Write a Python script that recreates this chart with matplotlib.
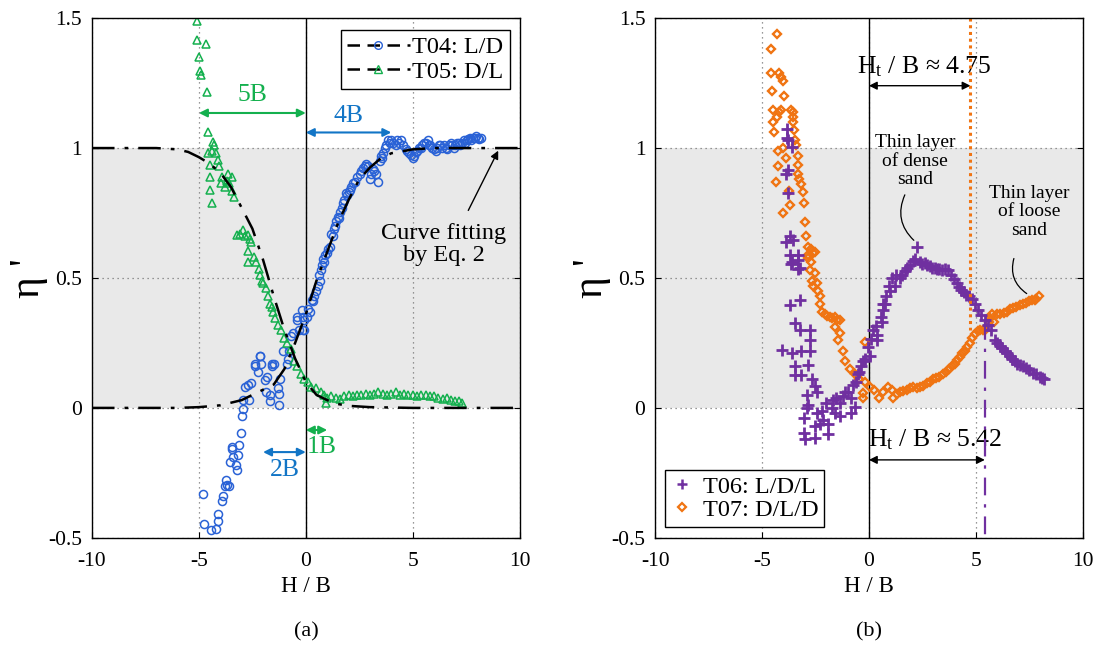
import matplotlib
matplotlib.use("Agg")
import matplotlib.pyplot as plt
from matplotlib.lines import Line2D

plt.rcParams['font.family'] = ['Liberation Serif', 'DejaVu Serif']
plt.rcParams['mathtext.fontset'] = 'custom'
plt.rcParams['mathtext.rm'] = 'Liberation Serif'
plt.rcParams['mathtext.it'] = 'Liberation Serif:italic'
plt.rcParams['axes.unicode_minus'] = False

# ---------------- data ----------------
# fitted curves (Eq. 2)
fit04_x = [-10, -6, -5, -4, -3, -2, -1.5, -1, -0.5, 0, 0.5, 1, 1.5, 2, 2.5, 3, 3.5, 4, 5, 6, 10]
fit04_y = [0, 0, 0.003, 0.01, 0.03, 0.07, 0.09, 0.15, 0.25, 0.36, 0.49, 0.6, 0.71, 0.8, 0.88, 0.925, 0.96, 0.98, 0.995, 1.0, 1.0]
fit05_x = [-10, -7, -6, -5.5, -5, -4.5, -4, -3.5, -3, -2.5, -2, -1.5, -1, -0.5, 0, 0.5, 1, 1.5, 2, 3, 5, 10]
fit05_y = [1, 1, 0.995, 0.985, 0.965, 0.94, 0.905, 0.85, 0.77, 0.69, 0.57, 0.43, 0.3, 0.19, 0.1, 0.05, 0.03, 0.015, 0.008, 0.003, 0, 0]

t04_x = [-4.83, -4.77, -4.45, -4.2, -4.11, -4.11, -3.94, -3.88, -3.79, -3.7, -3.74, -3.6, -3.24, -3.25,
         -3.55, -3.4, -3.47, -3.45, -3.17, -3.13, -3.05, -3.0, -2.96, -2.93, -2.85, -2.7, -2.67, -2.55,
         -2.39, -2.36, -2.23, -2.15, -2.12, -2.1, -1.92, -1.87, -1.82, -1.68, -1.66, -1.6, -1.57, -1.5,
         -1.29, -1.25, -1.25, -1.2, -1.06, -0.9, -0.84, -0.78, -0.67, -0.6, -0.43, -0.4, -0.3, -0.2,
         -0.15, -0.14, -0.08, -0.1, 0.05, 0.08, 0.2, 0.27, 0.34, 0.4,
         0.5, 0.55, 0.6, 0.65, 0.7, 0.75, 0.8, 0.85, 0.9, 0.97, 1.05, 1.12, 1.2, 1.25, 1.3, 1.36, 1.42,
         1.5, 1.55, 1.6, 1.67, 1.74, 1.8, 1.9, 1.95, 2.0, 2.06, 2.12, 2.2, 2.3, 2.4, 2.52, 2.6, 2.67,
         2.75, 2.83, 2.9, 2.99, 3.05, 3.12, 3.2, 3.28, 3.37, 3.45, 3.5, 3.55, 3.6, 3.7, 3.77, 3.85,
         3.92, 4.0, 4.1, 4.2, 4.28, 4.36, 4.45, 4.55, 4.67, 4.75, 4.83, 4.9, 5.0, 5.07, 5.14, 5.22,
         5.3, 5.37, 5.45, 5.52, 5.6, 5.7, 5.77, 5.83, 5.9, 6.0, 6.07, 6.15, 6.22, 6.3, 6.38, 6.46,
         6.54, 6.62, 6.7, 6.78, 6.86, 6.93, 7.0, 7.08, 7.15, 7.22, 7.3, 7.38, 7.45, 7.52, 7.6, 7.68,
         7.75, 7.82, 7.9, 7.98, 8.05, 8.12, 8.2]
t04_y = [-0.33, -0.446, -0.47, -0.465, -0.437, -0.41, -0.36, -0.34, -0.30, -0.296, -0.277, -0.3, -0.24, -0.22,
         -0.21, -0.19, -0.16, -0.15, -0.18, -0.143, -0.097, -0.03, -0.005, 0.03, 0.08, 0.09, 0.03, 0.096,
         0.16, 0.17, 0.14, 0.2, 0.2, 0.17, 0.108, 0.063, 0.12, 0.025, 0.05, 0.17, 0.16, 0.17,
         0.076, 0.055, 0.01, 0.11, 0.22, 0.17, 0.19, 0.22, 0.275, 0.29, 0.34, 0.35, 0.3, 0.377,
         0.35, 0.3, 0.34, 0.30, 0.35, 0.38, 0.37, 0.415, 0.41, 0.43,
         0.45, 0.47, 0.51, 0.49, 0.53, 0.55, 0.575, 0.56, 0.59, 0.595, 0.61, 0.62, 0.67, 0.66, 0.69, 0.70, 0.72,
         0.735, 0.73, 0.755, 0.77, 0.787, 0.80, 0.826, 0.82, 0.83, 0.84, 0.85, 0.865, 0.87, 0.89, 0.90, 0.91, 0.925,
         0.93, 0.94, 0.93, 0.88, 0.90, 0.92, 0.91, 0.90, 0.87, 0.95, 0.97, 0.96, 0.98, 1.0, 1.01, 1.03,
         1.02, 1.03, 1.02, 1.01, 1.03, 1.02, 1.03, 1.01, 0.995, 0.99, 0.98, 0.975, 0.96, 0.97, 0.985, 0.99,
         1.0, 1.0, 1.01, 1.02, 1.02, 1.03, 1.01, 1.01, 1.0, 0.995, 0.99, 1.0, 1.01, 1.01, 1.0, 1.01,
         1.0, 0.995, 1.01, 1.02, 1.01, 1.0, 1.01, 1.02, 1.02, 1.01, 1.02, 1.03, 1.02, 1.03, 1.035, 1.04,
         1.03, 1.04, 1.04, 1.045, 1.04, 1.035, 1.04]

t05_x = [-5.08, -5.08, -4.67, -4.98, -4.95, -4.9, -4.61, -4.56, -4.33, -4.28, -4.4, -4.2, -4.56, -4.13,
         -4.49, -4.06, -3.63, -3.9, -4.49, -3.7, -3.95, -3.6, -3.8, -4.49, -3.45, -3.37, -4.41, -3.45,
         -3.24, -3.1, -2.93, -2.85, -2.7, -2.62, -2.7, -2.7, -2.55, -2.4, -2.35, -2.2, -2.12, -2.05,
         -2.0, -1.85, -1.77, -1.69, -1.6, -1.55, -1.44, -1.32, -1.17, -1.0, -0.86, -0.7, -0.55, -0.39,
         -0.24, -0.08, 0.08, 0.23, 0.47, 0.7, 0.85, 0.93, 1.0, 1.2, 1.4, 1.6, 1.8, 2.0, 2.2, 2.4,
         2.6, 2.8, 3.0, 3.2, 3.4, 3.6, 3.8, 4.0, 4.2, 4.4, 4.6, 4.8, 5.0, 5.2, 5.4, 5.6, 5.8, 6.0,
         6.2, 6.4, 6.6, 6.8, 7.0, 7.15, 7.3]
t05_y = [1.49, 1.415, 1.40, 1.35, 1.295, 1.28, 1.217, 1.06, 1.025, 1.01, 0.99, 0.98, 0.98, 0.955,
         0.935, 0.93, 0.90, 0.89, 0.89, 0.875, 0.865, 0.865, 0.85, 0.84, 0.835, 0.81, 0.79, 0.89,
         0.665, 0.67, 0.685, 0.66, 0.665, 0.65, 0.605, 0.563, 0.64, 0.58, 0.56, 0.535, 0.51, 0.49,
         0.48, 0.46, 0.43, 0.40, 0.39, 0.37, 0.345, 0.32, 0.30, 0.27, 0.25, 0.225, 0.18, 0.16,
         0.13, 0.11, 0.10, 0.08, 0.075, 0.06, 0.05, 0.02, 0.04, 0.045, 0.04, 0.035, 0.045, 0.05, 0.045, 0.05,
         0.05, 0.055, 0.05, 0.055, 0.06, 0.055, 0.05, 0.055, 0.06, 0.05, 0.055, 0.05, 0.05, 0.045, 0.05, 0.05, 0.045, 0.045,
         0.04, 0.035, 0.04, 0.03, 0.025, 0.025, 0.02]

t06_x = [-3.84, -3.84, -3.8, -3.6, -3.77, -3.9, -3.77, -3.69, -3.9, -3.53, -3.69, -3.3, -3.6, -3.3,
         -3.22, -3.63, -3.3, -3.69, -3.22, -3.45, -3.22, -2.76, -2.76, -4.05, -3.6, -3.2, -2.76, -3.45,
         -2.84, -3.45, -3.2, -2.68, -2.53, -2.45, -2.9, -2.84, -2.9, -3.05, -3.05, -3.0, -2.53, -2.53,
         -2.45, -2.2, -2.15, -2.3, -1.9, -1.9, -2.0, -1.75, -1.68, -1.6, -1.53, -1.37, -1.37, -1.21,
         -1.14, -0.98, -0.82, -0.82, -0.67, -0.75, -0.6, -0.5, -0.45, -0.37, -0.3, -0.2, -0.05, 0.05,
         0.1, 0.18, 0.33, 0.36, 0.4, 0.55, 0.6, 0.64, 0.67, 0.75, 0.8, 0.95, 0.98, 1.1, 1.21, 1.25,
         1.45, 1.55, 1.68, 1.8, 1.92, 2.05, 2.15, 2.23, 2.4, 2.5, 2.6, 2.72, 2.85, 2.95, 3.08, 3.2,
         3.3, 3.42, 3.55, 3.7, 3.86, 3.98, 4.1, 4.22, 4.33, 4.45, 4.56, 4.68, 4.8, 4.95, 5.1, 5.26,
         5.42, 5.57, 5.73, 5.88, 6.0, 6.12, 6.23, 6.35, 6.47, 6.59, 6.7, 6.82, 6.94, 7.05, 7.2, 7.36,
         7.5, 7.67, 7.82, 7.98, 8.1, 8.2]
t06_y = [1.075, 1.04, 1.03, 1.005, 0.915, 0.9, 0.826, 0.66, 0.64, 0.645, 0.59, 0.59, 0.56, 0.57,
         0.54, 0.555, 0.535, 0.396, 0.415, 0.326, 0.30, 0.30, 0.26, 0.223, 0.21, 0.22, 0.22, 0.16,
         0.165, 0.125, 0.125, 0.11, 0.085, 0.06, 0.05, 0.01, 0.0, -0.04, -0.098, -0.12, -0.115, -0.07,
         -0.02, -0.01, -0.045, -0.06, -0.1, -0.06, 0.02, 0.0, 0.03, -0.02, 0.04, 0.02, -0.03, 0.045,
         0.06, 0.06, 0.04, -0.02, 0.005, 0.09, 0.1, 0.13, 0.14, 0.16, 0.18, 0.19, 0.235, 0.2,
         0.265, 0.3, 0.315, 0.26, 0.28, 0.35, 0.33, 0.40, 0.377, 0.40, 0.43, 0.47, 0.45, 0.5, 0.47, 0.51,
         0.5, 0.51, 0.525, 0.54, 0.55, 0.565, 0.575, 0.62, 0.56, 0.555, 0.557, 0.55, 0.545, 0.54, 0.54, 0.535,
         0.535, 0.53, 0.535, 0.53, 0.51, 0.495, 0.48, 0.465, 0.455, 0.445, 0.435, 0.43, 0.42, 0.40, 0.377, 0.357,
         0.34, 0.32, 0.30, 0.26, 0.25, 0.24, 0.23, 0.22, 0.21, 0.2, 0.19, 0.18, 0.17, 0.165, 0.16, 0.155,
         0.145, 0.135, 0.13, 0.12, 0.115, 0.11]

t07_x = [-4.32, -4.58, -4.56, -4.2, -4.1, -4.0, -4.53, -3.97, -4.5, -4.2, -4.1, -3.64, -3.57, -4.28,
         -3.57, -4.47, -3.57, -3.5, -4.45, -3.44, -4.24, -4.0, -3.4, -3.33, -3.86, -4.27, -3.33, -3.33,
         -3.25, -3.17, -4.33, -3.1, -3.73, -3.7, -3.02, -4.02, -3.0, -2.93, -2.85, -2.7, -2.54, -2.85,
         -2.7, -2.83, -2.6, -2.76, -2.53, -2.68, -2.45, -2.6, -2.37, -2.3, -2.3, -2.2, -2.06, -1.95,
         -1.84, -1.72, -1.6, -1.48, -1.37, -1.6, -1.37, -1.45, -1.2, -1.14, -0.9, -0.67, -0.45, -0.2,
         -0.3, -0.17, -0.28, 0.03, 0.25, 0.48, 0.64, 0.87, 1.1, 1.14, 1.3, 1.45, 1.6, 1.76, 1.92, 2.07,
         2.23, 2.39, 2.55, 2.7, 2.85, 3.0, 3.15, 3.3, 3.45, 3.6, 3.75, 3.9, 4.02, 4.14, 4.26, 4.37,
         4.48, 4.6, 4.72, 4.84, 4.98, 5.1, 5.2, 5.32, 5.45, 5.6, 5.68, 5.75, 5.85, 6.0, 6.15, 6.3,
         6.45, 6.6, 6.75, 6.9, 7.05, 7.2, 7.35, 7.5, 7.65, 7.75, 7.83, 7.95]
t07_y = [1.44, 1.38, 1.29, 1.29, 1.275, 1.26, 1.22, 1.2, 1.146, 1.14, 1.146, 1.146, 1.14, 1.12,
         1.12, 1.10, 1.10, 1.07, 1.06, 1.03, 0.99, 1.0, 1.01, 0.97, 0.96, 0.93, 0.935, 0.9,
         0.88, 0.86, 0.87, 0.83, 0.835, 0.78, 0.79, 0.75, 0.716, 0.66, 0.62, 0.61, 0.6, 0.59,
         0.56, 0.576, 0.595, 0.53, 0.52, 0.49, 0.48, 0.47, 0.45, 0.43, 0.40, 0.37, 0.36, 0.355,
         0.35, 0.345, 0.35, 0.34, 0.34, 0.31, 0.29, 0.26, 0.22, 0.18, 0.15, 0.13, 0.11, 0.1,
         0.04, 0.255, 0.056, 0.08, 0.07, 0.04, 0.06, 0.08, 0.07, 0.04, 0.055, 0.06, 0.065, 0.07, 0.075, 0.08,
         0.075, 0.08, 0.085, 0.095, 0.1, 0.11, 0.115, 0.12, 0.13, 0.14, 0.15, 0.16, 0.17, 0.185, 0.195, 0.21,
         0.22, 0.235, 0.25, 0.27, 0.285, 0.295, 0.3, 0.3, 0.3, 0.33, 0.345, 0.36, 0.33, 0.36, 0.36, 0.365,
         0.37, 0.38, 0.385, 0.39, 0.395, 0.40, 0.405, 0.41, 0.415, 0.415, 0.42, 0.43]

xticks = [-10, -5, 0, 5, 10]
yticks = [-0.5, 0, 0.5, 1, 1.5]
yticklabels = ['-0.5', '0', '0.5', '1', '1.5']

blue = '#2a62d6'
blue_ann = '#1275c6'
green = '#14b04e'
purple = '#7030a0'
orange = '#f07412'

fig = plt.figure(figsize=(11.02, 6.48), dpi=100)
axL = fig.add_axes([0.0835, 0.170, 0.388, 0.802])
axR = fig.add_axes([0.5945, 0.170, 0.388, 0.802])

for ax in (axL, axR):
    ax.set_xlim(-10, 10)
    ax.set_ylim(-0.5, 1.5)
    ax.axhspan(0, 1, color='#e9e9e9', zorder=0, lw=0)
    ax.set_xticks(xticks)
    ax.set_yticks(yticks)
    ax.set_yticklabels(yticklabels)
    ax.grid(True, ls=(0, (1, 3)), color='#777777', lw=0.9, zorder=1)
    ax.axvline(0, color='black', lw=1.0, zorder=2)
    ax.tick_params(direction='in', length=4, labelsize=15.5, right=True, top=False)
    ax.tick_params(axis='x', pad=10)
    ax.tick_params(axis='y', pad=7)
    for s in ax.spines.values():
        s.set_linewidth(1.0)
        s.set_zorder(6)
    ax.set_xlabel('H / B', fontsize=16.5, labelpad=4)
    ax.set_ylabel("η '", fontsize=30, labelpad=0)

# ---------- left panel ----------
axL.plot(t04_x, t04_y, 'o', ms=5.8, mfc='none', mec=blue, mew=1.1, zorder=3)
axL.plot(t05_x, t05_y, '^', ms=5.8, mfc='none', mec=green, mew=1.1, zorder=3)
axL.plot(fit04_x, fit04_y, color='black', lw=1.8, ls=(0, (9, 4, 1.5, 4)), zorder=4)
axL.plot(fit05_x, fit05_y, color='black', lw=1.8, ls=(0, (9, 4, 1.5, 4)), zorder=4)

h1 = Line2D([], [], color='black', lw=1.8, ls=(0, (5, 3)), marker='o', ms=5.5, mfc='none', mec=blue)
h2 = Line2D([], [], color='black', lw=1.8, ls=(0, (5, 3)), marker='^', ms=5.5, mfc='none', mec=green)
legL = axL.legend([h1, h2], ['T04: L/D', 'T05: D/L'], loc='upper right', fontsize=17.5,
                  frameon=True, fancybox=False, edgecolor='black', framealpha=1,
                  handlelength=2.6, handletextpad=0.1, borderpad=0.25, labelspacing=0.1,
                  borderaxespad=0, bbox_to_anchor=(0.977, 0.977))
legL.get_frame().set_linewidth(1.0)

arr = dict(arrowstyle='<|-|>', lw=1.5, mutation_scale=12, shrinkA=0, shrinkB=0)
axL.annotate('', xy=(-5, 1.135), xytext=(0, 1.135), arrowprops=dict(color=green, **arr))
axL.text(-2.5, 1.16, '5B', color=green, fontsize=18.5, ha='center', va='bottom')
axL.annotate('', xy=(0, 1.06), xytext=(4, 1.06), arrowprops=dict(color=blue_ann, **arr))
axL.text(2.0, 1.08, '4B', color=blue_ann, fontsize=18.5, ha='center', va='bottom')
axL.annotate('', xy=(0, -0.085), xytext=(1, -0.085), arrowprops=dict(color=green, **arr))
axL.text(0.75, -0.11, '1B', color=green, fontsize=18.5, ha='center', va='top')
axL.annotate('', xy=(-2, -0.17), xytext=(0, -0.17), arrowprops=dict(color=blue_ann, **arr))
axL.text(-1.0, -0.195, '2B', color=blue_ann, fontsize=18.5, ha='center', va='top')
axL.annotate('', xy=(9.0, 0.99), xytext=(7.6, 0.76),
             arrowprops=dict(arrowstyle='-|>', color='black', lw=1.0, mutation_scale=12, shrinkA=0, shrinkB=0))
axL.text(6.45, 0.63, 'Curve fitting\nby Eq. 2', fontsize=17.5, ha='center', va='center', linespacing=1.05)

# ---------- right panel ----------
axR.plot(t07_x, t07_y, 'D', ms=4.4, mfc='none', mec=orange, mew=1.7, zorder=3)
axR.plot(t06_x, t06_y, '+', ms=8, mec=purple, mew=2.0, zorder=3)
axR.plot([4.75, 4.75], [1.5, 0.3], color=orange, lw=2.2, ls=(0, (1, 1.2)), zorder=4)
axR.plot([5.42, 5.42], [0.33, -0.5], color=purple, lw=1.6, ls=(0, (8, 4, 1.5, 4)), zorder=4)

h3 = Line2D([], [], ls='none', marker='+', ms=7.5, mec=purple, mew=1.8)
h4 = Line2D([], [], ls='none', marker='D', ms=4.2, mfc='none', mec=orange, mew=1.6)
legR = axR.legend([h3, h4], ['T06: L/D/L', 'T07: D/L/D'], loc='lower left', fontsize=17.5,
                  frameon=True, fancybox=False, edgecolor='black', framealpha=1,
                  handlelength=0.9, handletextpad=0.4, borderpad=0.25, labelspacing=0.05,
                  borderaxespad=0, bbox_to_anchor=(0.023, 0.021))
legR.get_frame().set_linewidth(1.0)

arrk = dict(arrowstyle='<|-|>', lw=1.0, mutation_scale=12, color='black', shrinkA=0, shrinkB=0)
axR.annotate('', xy=(0, 1.24), xytext=(4.75, 1.24), arrowprops=arrk)
axR.text(2.6, 1.265, r'H$_\mathregular{t}$ / B ≈ 4.75', fontsize=18.5, ha='center', va='bottom')
axR.annotate('', xy=(0, -0.2), xytext=(5.42, -0.2), arrowprops=arrk)
axR.text(3.1, -0.17, r'H$_\mathregular{t}$ / B ≈ 5.42', fontsize=18.5, ha='center', va='bottom')

axR.text(2.15, 0.95, 'Thin layer\nof dense\nsand', fontsize=14, ha='center', va='center', linespacing=1.1)
axR.annotate('', xy=(2.1, 0.645), xytext=(1.68, 0.82),
             arrowprops=dict(arrowstyle='-', color='black', lw=0.9, connectionstyle='arc3,rad=0.35',
                             shrinkA=0, shrinkB=0))
axR.text(7.5, 0.755, 'Thin layer\nof loose\nsand', fontsize=14, ha='center', va='center', linespacing=1.1)
axR.annotate('', xy=(7.38, 0.44), xytext=(6.78, 0.575),
             arrowprops=dict(arrowstyle='-', color='black', lw=0.9, connectionstyle='arc3,rad=0.35',
                             shrinkA=0, shrinkB=0))

fig.text(306 / 1102, 0.025, '(a)', fontsize=16, ha='center', va='center')
fig.text(869 / 1102, 0.025, '(b)', fontsize=16, ha='center', va='center')

fig.savefig('out.png', dpi=100)
